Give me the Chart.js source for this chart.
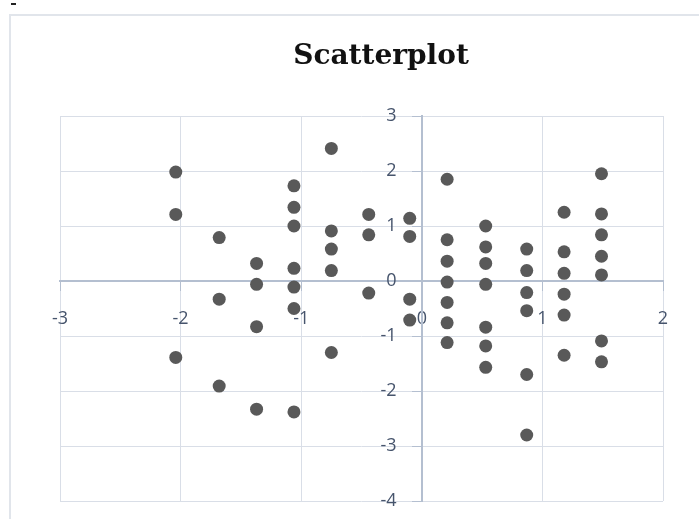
<!DOCTYPE html>
<html>
<head>
<meta charset="utf-8">
<script src="https://cdn.jsdelivr.net/npm/chart.js@4/dist/chart.umd.min.js"></script>
<style>
  html, body { margin: 0; padding: 0; background: #fff; }
  #wrap { position: relative; width: 699px; height: 519px; overflow: hidden; }
  #frame { position: absolute; left: 9px; top: 14px; width: 700px; height: 520px;
           border: 2px solid #e1e5eb; box-sizing: border-box; }
  #dash { position: absolute; left: 11px; top: 3px; width: 5px; height: 2px; background: #222; }
  #chart { position: absolute; left: 0; top: 0; }
</style>
</head>
<body>
<div id="wrap">
  <div id="dash"></div>
  <div id="frame"></div>
  <canvas id="chart" width="699" height="519"></canvas>
</div>
<script>
// --- Data ---
const chartTitle = 'Scatterplot';
const xValues = [
  -2.04, -2.04, -2.04,
  -1.68, -1.68, -1.68,
  -1.37, -1.37, -1.37, -1.37,
  -1.06, -1.06, -1.06, -1.06, -1.06, -1.06, -1.06,
  -0.75, -0.75, -0.75, -0.75, -0.75,
  -0.44, -0.44, -0.44,
  -0.10, -0.10, -0.10, -0.10,
  0.21, 0.21, 0.21, 0.21, 0.21, 0.21, 0.21,
  0.53, 0.53, 0.53, 0.53, 0.53, 0.53, 0.53,
  0.87, 0.87, 0.87, 0.87, 0.87, 0.87,
  1.18, 1.18, 1.18, 1.18, 1.18, 1.18,
  1.49, 1.49, 1.49, 1.49, 1.49, 1.49, 1.49
];
const yValues = [
  1.98, 1.21, -1.39,
  0.79, -0.33, -1.91,
  0.32, -0.06, -0.83, -2.33,
  1.73, 1.34, 1.00, 0.23, -0.11, -0.50, -2.38,
  2.41, 0.91, 0.58, 0.19, -1.30,
  1.21, 0.84, -0.22,
  1.14, 0.81, -0.33, -0.71,
  1.85, 0.75, 0.36, -0.02, -0.39, -0.76, -1.12,
  1.00, 0.62, 0.32, -0.06, -0.84, -1.18, -1.57,
  0.58, 0.19, -0.21, -0.54, -1.70, -2.80,
  1.25, 0.53, 0.14, -0.24, -0.62, -1.35,
  1.95, 1.22, 0.84, 0.45, 0.11, -1.09, -1.47
];
const xTicks = [-3, -2, -1, 0, 1, 2];
const yTicks = [-4, -3, -2, -1, 0, 1, 2, 3];

// --- Styles ---
const gridColor = '#d9dee7';
const axisColor = '#b4bfd0';
const labelColor = '#46546c';
const labelFont = { family: 'Open Sans', size: 18 };

const points = xValues.map((x, i) => ({ x, y: yValues[i] }));

// title drawn at a fixed spot (Excel centres it over the whole frame, not the plot)
const titlePlugin = {
  id: 'frameTitle',
  afterDraw(chart) {
    const ctx = chart.ctx;
    ctx.save();
    ctx.font = 'bold 28px "DejaVu Serif"';
    ctx.fillStyle = '#111';
    ctx.textAlign = 'center';
    ctx.textBaseline = 'alphabetic';
    ctx.fillText(chartTitle, 381, 64);
    ctx.restore();
  }
};

const yRange = {
  min: yTicks[0],
  max: yTicks[yTicks.length - 1],
  afterBuildTicks: s => { s.ticks = yTicks.map(v => ({ value: v })); }
};

const ctx = document.getElementById('chart').getContext('2d');
new Chart(ctx, {
  type: 'scatter',
  data: {
    datasets: [{
      data: points,
      backgroundColor: '#595959',
      borderColor: '#595959',
      pointRadius: 6.5,
      pointHoverRadius: 6.5,
      borderWidth: 0
    }]
  },
  options: {
    responsive: false,
    animation: false,
    layout: { padding: { left: 60, right: 36, top: 116, bottom: 18 } },
    plugins: {
      legend: { display: false },
      title: { display: false },
      tooltip: { enabled: false }
    },
    scales: {
      x: {
        type: 'linear',
        position: { y: 0 },
        min: xTicks[0],
        max: xTicks[xTicks.length - 1],
        afterBuildTicks: s => { s.ticks = xTicks.map(v => ({ value: v })); },
        grid: { color: gridColor, lineWidth: 1, tickLength: 9, tickColor: axisColor },
        border: { color: axisColor, width: 2 },
        ticks: { color: labelColor, font: labelFont, padding: 18, maxRotation: 0 }
      },
      // axis line, grid and tick marks
      y: {
        type: 'linear',
        position: { x: 0 },
        ...yRange,
        grid: { color: gridColor, lineWidth: 1, tickLength: 9, tickColor: axisColor },
        border: { color: axisColor, width: 2 },
        ticks: { display: false }
      },
      // labels only, set a little left of the axis like Excel does
      yLabels: {
        type: 'linear',
        axis: 'y',
        position: { x: -0.21 },
        ...yRange,
        grid: { display: false, drawTicks: false },
        border: { display: false },
        ticks: { color: labelColor, font: labelFont, padding: 0 }
      }
    }
  },
  plugins: [titlePlugin]
});
</script>
</body>
</html>
